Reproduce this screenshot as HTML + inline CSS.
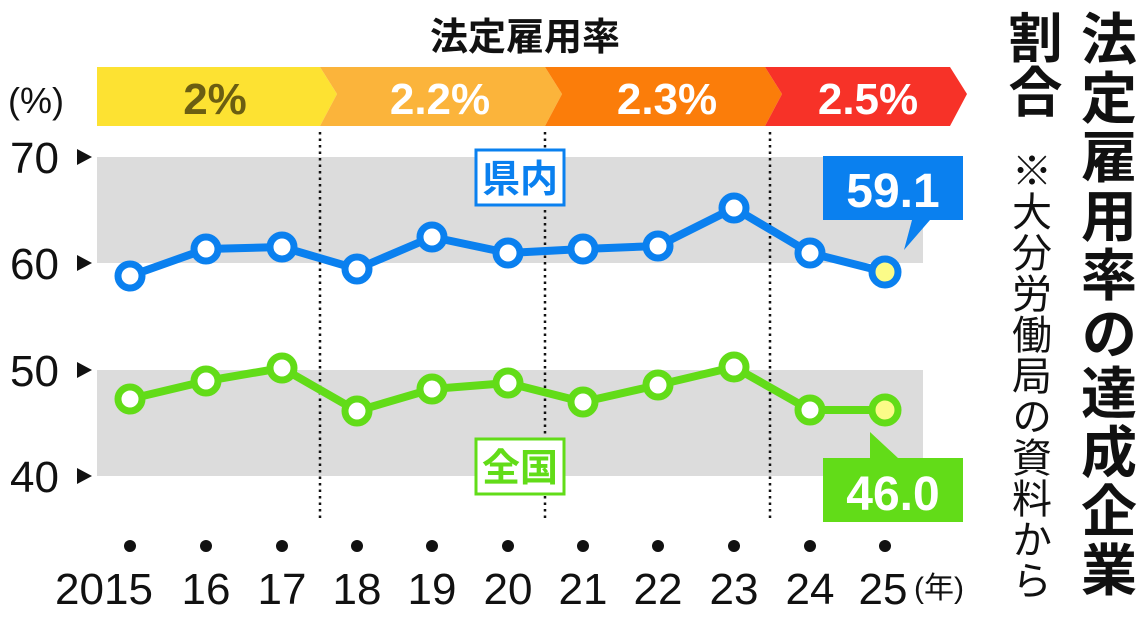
<!DOCTYPE html>
<html><head><meta charset="utf-8"><style>
html,body{margin:0;padding:0;background:#fff;}
svg{display:block;}
text{font-family:"Liberation Sans","Noto Sans CJK JP",sans-serif;}
.v{writing-mode:vertical-rl;}
</style></head><body>
<svg width="1140" height="622" viewBox="0 0 1140 622" xmlns="http://www.w3.org/2000/svg">
<rect x="97" y="157" width="826" height="106" fill="#dcdcdc"/>
<rect x="97" y="370" width="826" height="106" fill="#dcdcdc"/>
<text x="525" y="50" font-size="38" font-weight="bold" text-anchor="middle" fill="#111">法定雇用率</text>
<polygon points="97,67 320,67 337,94 320,126 97,126" fill="#fde232"/>
<polygon points="320,67 545,67 562,94 545,126 320,126 337,94" fill="#fbb43b"/>
<polygon points="545,67 765,67 782,94 765,126 545,126 562,94" fill="#fb7d0a"/>
<polygon points="765,67 950,67 967,94 950,126 765,126 782,94" fill="#f73228"/>
<g font-size="44" font-weight="bold" text-anchor="middle">
<text x="215" y="114" fill="#6b5e12">2%</text>
<text x="440" y="114" fill="#fff">2.2%</text>
<text x="667" y="114" fill="#fff">2.3%</text>
<text x="868" y="114" fill="#fff">2.5%</text>
</g>
<text x="8" y="113" font-size="36" fill="#111">(%)</text>
<g font-size="44" fill="#111">
<text x="10" y="173">70</text><text x="10" y="279">60</text>
<text x="10" y="386">50</text><text x="10" y="492">40</text>
</g>
<g fill="#111">
<polygon points="77,149 92,157 77,165"/><polygon points="77,255 92,263 77,271"/>
<polygon points="77,362 92,370 77,378"/><polygon points="77,468 92,476 77,484"/>
</g>
<g stroke="#111" stroke-width="2.5" stroke-dasharray="2.5,4">
<line x1="320" y1="132" x2="320" y2="522"/>
<line x1="545" y1="132" x2="545" y2="522"/>
<line x1="770" y1="132" x2="770" y2="522"/>
</g>
<rect x="476" y="150" width="88" height="55" fill="#fff" stroke="#0a80ef" stroke-width="3"/>
<text x="520" y="192" font-size="38" font-weight="bold" fill="#0a80ef" text-anchor="middle">県内</text>
<rect x="476" y="439" width="88" height="55" fill="#fff" stroke="#62dc18" stroke-width="3"/>
<text x="520" y="481" font-size="38" font-weight="bold" fill="#62dc18" text-anchor="middle">全国</text>
<polyline fill="none" stroke="#0a80ef" stroke-width="8" stroke-linejoin="round" points="130,276 206,249 282,247 357,269 432,237 508,253 583,249 658,246 734,208 810,253 885,272"/>
<polyline fill="none" stroke="#62dc18" stroke-width="8" stroke-linejoin="round" points="130,399 206,381 282,368 357,411 432,389 508,383 583,402 658,385 734,367 810,410 885,410"/>
<g stroke="#0a80ef" stroke-width="7" fill="#fff">
<circle cx="130" cy="276" r="12"/><circle cx="206" cy="249" r="12"/><circle cx="282" cy="247" r="12"/><circle cx="357" cy="269" r="12"/><circle cx="432" cy="237" r="12"/><circle cx="508" cy="253" r="12"/><circle cx="583" cy="249" r="12"/><circle cx="658" cy="246" r="12"/><circle cx="734" cy="208" r="12"/><circle cx="810" cy="253" r="12"/><circle cx="885" cy="272" r="13" fill="#fbfb88"/>
</g>
<g stroke="#62dc18" stroke-width="7" fill="#fff">
<circle cx="130" cy="399" r="12"/><circle cx="206" cy="381" r="12"/><circle cx="282" cy="368" r="12"/><circle cx="357" cy="411" r="12"/><circle cx="432" cy="389" r="12"/><circle cx="508" cy="383" r="12"/><circle cx="583" cy="402" r="12"/><circle cx="658" cy="385" r="12"/><circle cx="734" cy="367" r="12"/><circle cx="810" cy="410" r="12"/><circle cx="885" cy="410" r="13" fill="#fbfb88"/>
</g>
<polygon points="823,156 963,156 963,220 930,220 904,250 912,220 823,220" fill="#0a80ef"/>
<text x="893" y="207" font-size="48" font-weight="bold" fill="#fff" text-anchor="middle">59.1</text>
<polygon points="823,458 870,458 870,432 898,458 963,458 963,522 823,522" fill="#62dc18"/>
<text x="893" y="510" font-size="48" font-weight="bold" fill="#fff" text-anchor="middle">46.0</text>
<g fill="#111">
<circle cx="130" cy="546" r="6"/><circle cx="206" cy="546" r="6"/><circle cx="282" cy="546" r="6"/><circle cx="357" cy="546" r="6"/><circle cx="432" cy="546" r="6"/><circle cx="508" cy="546" r="6"/><circle cx="583" cy="546" r="6"/><circle cx="658" cy="546" r="6"/><circle cx="734" cy="546" r="6"/><circle cx="810" cy="546" r="6"/><circle cx="885" cy="546" r="6"/>
</g>
<g font-size="44" fill="#111" text-anchor="middle">
<text x="104" y="604">2015</text><text x="206" y="604">16</text><text x="282" y="604">17</text><text x="357" y="604">18</text><text x="432" y="604">19</text><text x="508" y="604">20</text><text x="583" y="604">21</text><text x="658" y="604">22</text><text x="734" y="604">23</text><text x="810" y="604">24</text><text x="883" y="604">25</text>
</g>
<text x="914" y="598" font-size="30" fill="#111">(年)</text>
<text x="1105" y="10" class="v" font-size="56" font-weight="bold" fill="#111" letter-spacing="3">法定雇用率の達成企業</text>
<text x="1030" y="10" class="v" font-size="54" font-weight="bold" fill="#111">割合</text>
<text x="1028" y="150" class="v" font-size="40" fill="#111" letter-spacing="1">※大分労働局の資料から</text>
</svg>
</body></html>
